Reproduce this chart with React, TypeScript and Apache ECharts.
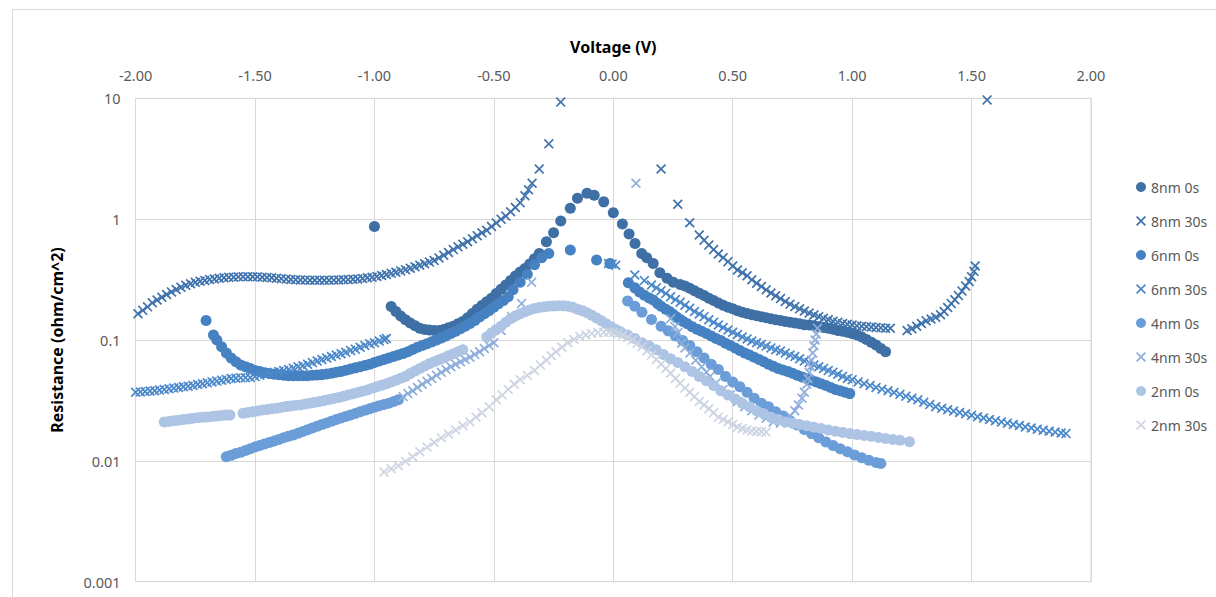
import React, { useEffect, useRef } from "react";
import * as echarts from "echarts";

type P = [number, number];

const seriesNames = ["8nm 0s", "8nm 30s", "6nm 0s", "6nm 30s", "4nm 0s", "4nm 30s", "2nm 0s", "2nm 30s"];
const seriesColors = ["#3E6FA5", "#3F72AC", "#4682C2", "#4A88CA", "#6B9DD8", "#8EAEDC", "#AEC4E5", "#CDD5E2"];
const xTicks = [-2, -1.5, -1, -0.5, 0, 0.5, 1, 1.5, 2];
const yTicks = [0.001, 0.01, 0.1, 1, 10];

const s8nm0s: P[] = [
  [-1.0, 0.87],
  [-0.93, 0.189], [-0.91, 0.172], [-0.89, 0.158], [-0.87, 0.147], [-0.85, 0.138], [-0.83, 0.131], [-0.81, 0.125],
  [-0.79, 0.122], [-0.77, 0.121], [-0.75, 0.12], [-0.73, 0.12], [-0.71, 0.122], [-0.69, 0.126], [-0.67, 0.13],
  [-0.65, 0.136], [-0.63, 0.142], [-0.61, 0.153], [-0.59, 0.166], [-0.57, 0.18], [-0.55, 0.193], [-0.53, 0.207],
  [-0.51, 0.222], [-0.49, 0.243], [-0.47, 0.263], [-0.45, 0.285], [-0.43, 0.31], [-0.41, 0.338], [-0.39, 0.365],
  [-0.37, 0.39], [-0.35, 0.425], [-0.33, 0.47], [-0.31, 0.52], [-0.28, 0.65], [-0.25, 0.773],
  [-0.22, 0.966], [-0.18, 1.23], [-0.15, 1.49], [-0.11, 1.64], [-0.08, 1.58], [-0.04, 1.39], [0.0, 1.13],
  [0.038, 0.91], [0.066, 0.754], [0.091, 0.63], [0.119, 0.52], [0.14, 0.48], [0.167, 0.43], [0.195, 0.36],
  [0.225, 0.325], [0.251, 0.3], [0.28, 0.288], [0.3, 0.28], [0.32, 0.268], [0.34, 0.256], [0.36, 0.244],
  [0.38, 0.233], [0.4, 0.222], [0.42, 0.212], [0.44, 0.202], [0.46, 0.194], [0.48, 0.187], [0.5, 0.181],
  [0.52, 0.175], [0.54, 0.17], [0.56, 0.166], [0.58, 0.162], [0.6, 0.159], [0.62, 0.156], [0.64, 0.153],
  [0.66, 0.15], [0.68, 0.147], [0.7, 0.145], [0.72, 0.142], [0.74, 0.14], [0.76, 0.138], [0.78, 0.136],
  [0.8, 0.134], [0.82, 0.133], [0.84, 0.131], [0.86, 0.129], [0.88, 0.127], [0.9, 0.125], [0.92, 0.123],
  [0.94, 0.12], [0.96, 0.118], [0.98, 0.116], [1.0, 0.113], [1.02, 0.11], [1.04, 0.106], [1.06, 0.101],
  [1.08, 0.096], [1.1, 0.091], [1.12, 0.085], [1.14, 0.08],
];

const s8nm30s: P[] = [
  [-1.99, 0.165], [-1.97, 0.176], [-1.95, 0.188], [-1.93, 0.203], [-1.91, 0.214], [-1.89, 0.226], [-1.87, 0.238],
  [-1.85, 0.25], [-1.83, 0.262], [-1.81, 0.273], [-1.79, 0.284], [-1.77, 0.292], [-1.75, 0.3], [-1.73, 0.306],
  [-1.71, 0.311], [-1.69, 0.316], [-1.67, 0.32], [-1.65, 0.324], [-1.63, 0.327], [-1.61, 0.33], [-1.59, 0.331],
  [-1.57, 0.333], [-1.55, 0.334], [-1.53, 0.334], [-1.51, 0.334], [-1.49, 0.333], [-1.47, 0.331], [-1.45, 0.329],
  [-1.43, 0.327], [-1.41, 0.324], [-1.39, 0.322], [-1.37, 0.319], [-1.35, 0.317], [-1.33, 0.315], [-1.31, 0.314],
  [-1.29, 0.313], [-1.27, 0.312], [-1.25, 0.312], [-1.23, 0.312], [-1.21, 0.312], [-1.19, 0.312], [-1.17, 0.313],
  [-1.15, 0.314], [-1.13, 0.315], [-1.11, 0.316], [-1.09, 0.318], [-1.07, 0.32], [-1.05, 0.323], [-1.03, 0.327],
  [-1.01, 0.331], [-0.99, 0.336], [-0.97, 0.342], [-0.95, 0.348], [-0.93, 0.356], [-0.91, 0.364], [-0.89, 0.373],
  [-0.87, 0.382], [-0.85, 0.392], [-0.83, 0.404], [-0.81, 0.416], [-0.79, 0.428], [-0.77, 0.441], [-0.75, 0.455],
  [-0.73, 0.478], [-0.71, 0.503], [-0.69, 0.53], [-0.67, 0.56], [-0.65, 0.59], [-0.63, 0.62], [-0.61, 0.65],
  [-0.59, 0.69], [-0.57, 0.73], [-0.55, 0.77], [-0.53, 0.81], [-0.51, 0.87], [-0.49, 0.93], [-0.47, 1.0],
  [-0.45, 1.06], [-0.43, 1.15], [-0.41, 1.25], [-0.39, 1.37], [-0.37, 1.56], [-0.355, 1.75], [-0.34, 1.98],
  [-0.31, 2.6], [-0.27, 4.2], [-0.22, 9.3],
  [0.2, 2.6], [0.27, 1.33], [0.32, 0.935], [0.36, 0.74], [0.38, 0.67], [0.4, 0.61], [0.42, 0.56], [0.44, 0.515],
  [0.46, 0.48], [0.48, 0.445], [0.5, 0.41], [0.52, 0.38], [0.54, 0.36], [0.56, 0.34], [0.58, 0.315], [0.6, 0.295],
  [0.62, 0.277], [0.64, 0.26], [0.66, 0.245], [0.68, 0.232], [0.7, 0.22], [0.72, 0.208], [0.74, 0.198],
  [0.76, 0.189], [0.78, 0.181], [0.8, 0.174], [0.82, 0.167], [0.84, 0.161], [0.86, 0.156], [0.88, 0.151],
  [0.9, 0.147], [0.92, 0.143], [0.94, 0.14], [0.96, 0.137], [0.98, 0.135], [1.0, 0.133], [1.02, 0.131],
  [1.04, 0.13], [1.06, 0.129], [1.08, 0.128], [1.1, 0.127], [1.12, 0.126], [1.14, 0.125], [1.16, 0.125],
  [1.23, 0.12], [1.25, 0.124], [1.27, 0.13], [1.29, 0.137], [1.31, 0.144], [1.33, 0.149], [1.35, 0.154],
  [1.37, 0.162], [1.385, 0.172], [1.4, 0.186], [1.415, 0.2], [1.43, 0.215], [1.445, 0.233], [1.46, 0.254],
  [1.475, 0.28], [1.49, 0.305], [1.5, 0.334], [1.51, 0.37], [1.515, 0.41],
  [1.565, 9.7],
];

const s6nm0s: P[] = [
  [-1.705, 0.145], [-1.674, 0.11], [-1.66, 0.1], [-1.64, 0.088], [-1.62, 0.078], [-1.6, 0.071], [-1.58, 0.066],
  [-1.56, 0.062], [-1.54, 0.06], [-1.52, 0.058], [-1.5, 0.056], [-1.48, 0.0548], [-1.46, 0.0537], [-1.44, 0.0528],
  [-1.42, 0.052], [-1.4, 0.0515], [-1.38, 0.051], [-1.36, 0.0507], [-1.34, 0.0505], [-1.32, 0.0505], [-1.3, 0.0505],
  [-1.28, 0.0507], [-1.26, 0.051], [-1.24, 0.0513], [-1.22, 0.0517], [-1.2, 0.0523], [-1.18, 0.053], [-1.16, 0.054],
  [-1.14, 0.055], [-1.12, 0.0562], [-1.1, 0.0575], [-1.08, 0.0588], [-1.06, 0.06], [-1.04, 0.0615], [-1.02, 0.063],
  [-1.0, 0.065], [-0.98, 0.067], [-0.96, 0.069], [-0.94, 0.071], [-0.92, 0.073], [-0.9, 0.075], [-0.88, 0.0775],
  [-0.86, 0.08], [-0.84, 0.0835], [-0.82, 0.087], [-0.8, 0.09], [-0.78, 0.093], [-0.76, 0.0965], [-0.74, 0.1],
  [-0.72, 0.104], [-0.7, 0.108], [-0.68, 0.113], [-0.66, 0.118], [-0.64, 0.124], [-0.62, 0.13], [-0.6, 0.137],
  [-0.58, 0.145], [-0.56, 0.155], [-0.54, 0.165], [-0.52, 0.175], [-0.5, 0.187], [-0.48, 0.2], [-0.46, 0.212],
  [-0.44, 0.228], [-0.42, 0.26], [-0.39, 0.3], [-0.36, 0.35], [-0.33, 0.42], [-0.3, 0.48], [-0.27, 0.52],
  [-0.18, 0.556], [-0.07, 0.46], [-0.014, 0.43],
  [0.063, 0.298], [0.09, 0.27], [0.11, 0.25], [0.13, 0.235], [0.15, 0.223], [0.167, 0.214], [0.185, 0.2],
  [0.2, 0.19], [0.22, 0.18], [0.237, 0.171], [0.25, 0.163], [0.265, 0.155], [0.28, 0.148], [0.293, 0.142],
  [0.31, 0.136], [0.33, 0.129], [0.35, 0.123], [0.37, 0.118], [0.39, 0.113], [0.41, 0.108], [0.43, 0.103],
  [0.45, 0.099], [0.47, 0.094], [0.49, 0.09], [0.51, 0.086], [0.53, 0.082], [0.55, 0.078], [0.57, 0.075],
  [0.59, 0.072], [0.61, 0.069], [0.63, 0.066], [0.65, 0.063], [0.67, 0.0605], [0.69, 0.058], [0.71, 0.0565],
  [0.73, 0.055], [0.75, 0.053], [0.77, 0.051], [0.79, 0.0495], [0.81, 0.048], [0.83, 0.0465], [0.85, 0.045],
  [0.87, 0.0435], [0.89, 0.042], [0.91, 0.0405], [0.93, 0.039], [0.95, 0.038], [0.97, 0.037], [0.99, 0.036],
];

const s6nm30s: P[] = [
  [-2.0, 0.037], [-1.98, 0.0372], [-1.96, 0.0375], [-1.94, 0.0378], [-1.92, 0.038], [-1.9, 0.0385], [-1.88, 0.039],
  [-1.86, 0.0395], [-1.84, 0.04], [-1.82, 0.0405], [-1.8, 0.041], [-1.78, 0.0415], [-1.76, 0.042], [-1.74, 0.0428],
  [-1.72, 0.0435], [-1.7, 0.0442], [-1.68, 0.045], [-1.66, 0.0457], [-1.64, 0.0465], [-1.62, 0.0472], [-1.6, 0.048],
  [-1.58, 0.0483], [-1.56, 0.0486], [-1.54, 0.0488], [-1.52, 0.049], [-1.5, 0.05], [-1.48, 0.051], [-1.46, 0.052],
  [-1.44, 0.053], [-1.42, 0.054], [-1.4, 0.055], [-1.38, 0.056], [-1.36, 0.057], [-1.34, 0.0585], [-1.32, 0.06],
  [-1.3, 0.0612], [-1.28, 0.063], [-1.26, 0.065], [-1.24, 0.067], [-1.22, 0.069], [-1.2, 0.071], [-1.18, 0.073],
  [-1.16, 0.075], [-1.14, 0.077], [-1.12, 0.079], [-1.1, 0.082], [-1.08, 0.084], [-1.06, 0.087], [-1.04, 0.09],
  [-1.02, 0.093], [-1.0, 0.095], [-0.98, 0.098], [-0.96, 0.101], [-0.95, 0.103],
  [-0.02, 0.43], [-0.005, 0.425], [0.01, 0.415], [0.09, 0.345], [0.13, 0.31], [0.16, 0.285], [0.18, 0.27],
  [0.2, 0.256], [0.22, 0.243], [0.24, 0.228], [0.26, 0.216], [0.28, 0.205], [0.3, 0.194], [0.32, 0.183],
  [0.34, 0.172], [0.36, 0.164], [0.38, 0.156], [0.4, 0.147], [0.42, 0.14], [0.44, 0.133], [0.46, 0.127],
  [0.48, 0.121], [0.5, 0.116], [0.52, 0.111], [0.54, 0.106], [0.56, 0.102], [0.58, 0.098], [0.6, 0.095],
  [0.62, 0.092], [0.64, 0.089], [0.66, 0.086], [0.68, 0.083], [0.7, 0.081], [0.72, 0.078], [0.74, 0.075],
  [0.76, 0.073], [0.78, 0.07], [0.8, 0.067], [0.82, 0.065], [0.84, 0.062], [0.86, 0.06], [0.88, 0.058],
  [0.9, 0.056], [0.92, 0.054], [0.94, 0.052], [0.96, 0.05], [0.98, 0.048], [1.0, 0.047], [1.025, 0.045],
  [1.05, 0.0435], [1.075, 0.042], [1.1, 0.0405], [1.125, 0.0392], [1.15, 0.038], [1.175, 0.0368], [1.2, 0.0355],
  [1.225, 0.0343], [1.25, 0.033], [1.275, 0.032], [1.3, 0.0305], [1.325, 0.0292], [1.35, 0.028], [1.375, 0.0272],
  [1.4, 0.0265], [1.425, 0.0258], [1.45, 0.0251], [1.475, 0.0245], [1.5, 0.0238], [1.525, 0.0232], [1.55, 0.0226],
  [1.575, 0.022], [1.6, 0.0215], [1.625, 0.021], [1.65, 0.0205], [1.675, 0.02], [1.7, 0.0196], [1.725, 0.0191],
  [1.75, 0.0187], [1.775, 0.0183], [1.8, 0.0179], [1.825, 0.0176], [1.85, 0.0173], [1.875, 0.017], [1.895, 0.0168],
];

const s4nm0s: P[] = [
  [-1.62, 0.0108], [-1.6, 0.0111], [-1.58, 0.0115], [-1.56, 0.0118], [-1.54, 0.0122], [-1.52, 0.0126],
  [-1.5, 0.013], [-1.48, 0.0134], [-1.46, 0.0138], [-1.44, 0.0142], [-1.42, 0.0146], [-1.4, 0.015],
  [-1.38, 0.0155], [-1.36, 0.016], [-1.34, 0.0164], [-1.32, 0.0169], [-1.3, 0.0175], [-1.28, 0.0181],
  [-1.26, 0.0187], [-1.24, 0.0193], [-1.22, 0.02], [-1.2, 0.0206], [-1.18, 0.0213], [-1.16, 0.022],
  [-1.14, 0.0226], [-1.12, 0.0233], [-1.1, 0.024], [-1.08, 0.0247], [-1.06, 0.0255], [-1.04, 0.0262],
  [-1.02, 0.027], [-1.0, 0.0278], [-0.98, 0.0286], [-0.96, 0.0293], [-0.94, 0.03], [-0.92, 0.031], [-0.9, 0.032],
  [0.06, 0.21], [0.09, 0.19], [0.12, 0.17], [0.16, 0.148], [0.2, 0.13], [0.23, 0.119], [0.26, 0.108],
  [0.29, 0.099], [0.32, 0.09], [0.35, 0.08], [0.38, 0.071], [0.41, 0.063], [0.44, 0.057], [0.47, 0.05],
  [0.5, 0.045], [0.53, 0.041], [0.56, 0.037], [0.59, 0.033], [0.62, 0.03], [0.65, 0.028], [0.68, 0.0255],
  [0.71, 0.0235], [0.74, 0.0215], [0.77, 0.0198], [0.8, 0.0182], [0.83, 0.0168], [0.86, 0.0155],
  [0.89, 0.0143], [0.92, 0.0134], [0.95, 0.0126], [0.98, 0.0119], [1.01, 0.0112], [1.04, 0.0106],
  [1.07, 0.0101], [1.1, 0.0097], [1.12, 0.0095],
];

const s4nm30s: P[] = [
  [-0.88, 0.034], [-0.86, 0.036], [-0.84, 0.038], [-0.82, 0.0405], [-0.8, 0.043], [-0.78, 0.0455], [-0.76, 0.048],
  [-0.74, 0.051], [-0.72, 0.054], [-0.7, 0.057], [-0.68, 0.06], [-0.66, 0.063], [-0.64, 0.066], [-0.62, 0.069],
  [-0.6, 0.072], [-0.58, 0.076], [-0.56, 0.08], [-0.54, 0.085], [-0.52, 0.09], [-0.5, 0.095], [-0.47, 0.12],
  [-0.425, 0.156], [-0.384, 0.2], [-0.342, 0.3], [0.095, 1.98],
  [0.24, 0.15], [0.258, 0.129], [0.27, 0.115], [0.286, 0.094], [0.3, 0.086], [0.321, 0.078], [0.345, 0.068],
  [0.37, 0.06], [0.39, 0.054], [0.405, 0.05], [0.43, 0.044], [0.46, 0.039], [0.49, 0.035], [0.52, 0.031],
  [0.55, 0.028], [0.58, 0.026], [0.61, 0.024], [0.64, 0.0225], [0.67, 0.021], [0.7, 0.0205], [0.72, 0.022],
  [0.74, 0.0235], [0.76, 0.026], [0.775, 0.029], [0.79, 0.033], [0.8, 0.037], [0.81, 0.043], [0.815, 0.048],
  [0.82, 0.054], [0.826, 0.06], [0.83, 0.068], [0.835, 0.078], [0.84, 0.09], [0.845, 0.1], [0.85, 0.112],
  [0.855, 0.125],
];

const s2nm0s: P[] = [
  [-1.88, 0.021], [-1.86, 0.0212], [-1.84, 0.0215], [-1.82, 0.0217], [-1.8, 0.022], [-1.78, 0.0222],
  [-1.76, 0.0225], [-1.74, 0.0227], [-1.72, 0.023], [-1.7, 0.0231], [-1.68, 0.0233], [-1.66, 0.0235],
  [-1.64, 0.0237], [-1.62, 0.0239], [-1.605, 0.024],
  [-1.55, 0.0248], [-1.53, 0.0251], [-1.51, 0.0255], [-1.49, 0.0259], [-1.47, 0.0263], [-1.45, 0.0266],
  [-1.43, 0.027], [-1.41, 0.0273], [-1.39, 0.0277], [-1.37, 0.0281], [-1.35, 0.0285], [-1.33, 0.0288],
  [-1.31, 0.029], [-1.29, 0.0295], [-1.27, 0.03], [-1.25, 0.0305], [-1.23, 0.031], [-1.21, 0.0316],
  [-1.19, 0.0322], [-1.17, 0.0328], [-1.15, 0.0335], [-1.13, 0.0342], [-1.11, 0.035], [-1.09, 0.0359],
  [-1.07, 0.0368], [-1.05, 0.0377], [-1.03, 0.0386], [-1.01, 0.0398], [-0.99, 0.041], [-0.97, 0.0422],
  [-0.95, 0.0435], [-0.93, 0.045], [-0.91, 0.0465], [-0.89, 0.0482], [-0.87, 0.05], [-0.85, 0.0527],
  [-0.83, 0.0555], [-0.81, 0.0582], [-0.79, 0.061], [-0.77, 0.0635], [-0.75, 0.066], [-0.73, 0.0685],
  [-0.71, 0.071], [-0.69, 0.074], [-0.67, 0.077], [-0.65, 0.08], [-0.63, 0.083],
  [-0.53, 0.106], [-0.51, 0.114], [-0.49, 0.122], [-0.47, 0.13], [-0.45, 0.14], [-0.43, 0.15], [-0.41, 0.158],
  [-0.39, 0.165], [-0.37, 0.171], [-0.35, 0.177], [-0.33, 0.182], [-0.31, 0.186], [-0.29, 0.188], [-0.27, 0.19],
  [-0.25, 0.191], [-0.23, 0.192], [-0.21, 0.192], [-0.19, 0.19], [-0.17, 0.187], [-0.15, 0.18], [-0.13, 0.175],
  [-0.11, 0.168], [-0.09, 0.16], [-0.07, 0.152], [-0.05, 0.144], [-0.03, 0.136], [-0.01, 0.129], [0.01, 0.122],
  [0.03, 0.117], [0.06, 0.11], [0.09, 0.103], [0.12, 0.095], [0.15, 0.089], [0.18, 0.083], [0.21, 0.076],
  [0.24, 0.07], [0.27, 0.065], [0.3, 0.06], [0.33, 0.055], [0.36, 0.05], [0.39, 0.046], [0.42, 0.042],
  [0.45, 0.038], [0.48, 0.035], [0.51, 0.0325], [0.54, 0.03], [0.57, 0.028], [0.6, 0.026], [0.63, 0.0245],
  [0.66, 0.023], [0.69, 0.022], [0.72, 0.021], [0.75, 0.0205], [0.78, 0.02], [0.81, 0.0195], [0.84, 0.019],
  [0.87, 0.0185], [0.9, 0.018], [0.93, 0.0176], [0.96, 0.0172], [0.99, 0.0168], [1.02, 0.0165], [1.05, 0.0162],
  [1.08, 0.016], [1.11, 0.0156], [1.14, 0.0153], [1.17, 0.015], [1.2, 0.0148], [1.24, 0.0144],
];

const s2nm30s: P[] = [
  [-0.96, 0.0081], [-0.93, 0.0086], [-0.9, 0.0091], [-0.87, 0.0099], [-0.84, 0.0108], [-0.81, 0.0119],
  [-0.78, 0.013], [-0.75, 0.0142], [-0.72, 0.0155], [-0.69, 0.0167], [-0.66, 0.018], [-0.63, 0.0195],
  [-0.6, 0.021], [-0.575, 0.023], [-0.55, 0.025], [-0.52, 0.028], [-0.49, 0.032], [-0.465, 0.035],
  [-0.44, 0.039], [-0.415, 0.043], [-0.39, 0.047], [-0.36, 0.051], [-0.33, 0.056], [-0.305, 0.062],
  [-0.28, 0.068], [-0.26, 0.074], [-0.24, 0.08], [-0.215, 0.087], [-0.19, 0.095], [-0.165, 0.101],
  [-0.14, 0.107], [-0.115, 0.11], [-0.09, 0.113], [-0.065, 0.115], [-0.04, 0.116], [-0.02, 0.116], [0.0, 0.115],
  [0.02, 0.113], [0.04, 0.11], [0.06, 0.105], [0.08, 0.1], [0.1, 0.094], [0.12, 0.088], [0.14, 0.081],
  [0.16, 0.075], [0.18, 0.069], [0.2, 0.063], [0.22, 0.058], [0.24, 0.053], [0.26, 0.048], [0.28, 0.044],
  [0.3, 0.04], [0.32, 0.037], [0.34, 0.034], [0.36, 0.031], [0.38, 0.029], [0.4, 0.027], [0.42, 0.025],
  [0.44, 0.023], [0.46, 0.022], [0.48, 0.021], [0.5, 0.02], [0.52, 0.019], [0.54, 0.0185], [0.56, 0.018],
  [0.58, 0.0177], [0.6, 0.0175], [0.62, 0.0174], [0.64, 0.0173],
];

const seriesData: P[][] = [s8nm0s, s8nm30s, s6nm0s, s6nm30s, s4nm0s, s4nm30s, s2nm0s, s2nm30s];

const CROSS = "path://M1.2,0L5,3.8L8.8,0L10,1.2L6.2,5L10,8.8L8.8,10L5,6.2L1.2,10L0,8.8L3.8,5L0,1.2Z";

export default function App() {
  const ref = useRef<HTMLDivElement>(null);
  useEffect(() => {
    if (!ref.current) return;
    const chart = echarts.init(ref.current, undefined, { renderer: "svg" });
    const labelColor = "#595959";
    const gridColor = "#d9d9d9";
    const font = "'Noto Sans', sans-serif";
    chart.setOption({
      animation: false,
      backgroundColor: "#ffffff",
      grid: { left: 135.6, right: 125, top: 98.3, bottom: 15.3, show: true, borderColor: gridColor, borderWidth: 1 },
      graphic: [
        {
          type: "rect",
          shape: { x: 12.5, y: 9.5, width: 1220, height: 600 },
          style: { fill: "none", stroke: gridColor, lineWidth: 1 },
          silent: true,
        },
      ],
      legend: {
        orient: "vertical",
        left: 1131,
        top: 175,
        itemWidth: 10,
        itemHeight: 10,
        itemGap: 20,
        textStyle: { color: labelColor, fontSize: 14, fontFamily: font, lineHeight: 14 },
        data: seriesNames.map((n, i) => ({ name: n, icon: i % 2 === 0 ? "circle" : CROSS })),
      },
      xAxis: {
        type: "value",
        position: "top",
        min: xTicks[0],
        max: xTicks[xTicks.length - 1],
        interval: 0.5,
        name: "Voltage (V)",
        nameLocation: "middle",
        nameGap: 43,
        nameTextStyle: { color: "#000", fontWeight: "bold", fontSize: 16, fontFamily: font },
        axisLine: { show: true, lineStyle: { color: gridColor } },
        axisTick: { show: false },
        axisLabel: { color: labelColor, fontSize: 14.5, fontFamily: font, margin: 16, formatter: (v: number) => v.toFixed(2) },
        splitLine: { show: true, lineStyle: { color: gridColor, width: 1 } },
      },
      yAxis: {
        type: "log",
        logBase: 10,
        min: yTicks[0],
        max: yTicks[yTicks.length - 1],
        name: "Resistance (ohm/cm^2)",
        nameLocation: "middle",
        nameGap: 71,
        nameTextStyle: { color: "#000", fontWeight: "bold", fontSize: 16, fontFamily: font },
        axisLine: { show: true, lineStyle: { color: gridColor } },
        axisTick: { show: false },
        axisLabel: {
          color: labelColor,
          fontSize: 14.5,
          fontFamily: font,
          margin: 15,
          formatter: (v: number) => String(Number(v.toPrecision(1))),
        },
        splitLine: { show: true, lineStyle: { color: gridColor, width: 1 } },
      },
      series: seriesNames.map((name, i) => ({
        name,
        type: "scatter",
        data: seriesData[i],
        symbol: i % 2 === 0 ? "circle" : CROSS,
        symbolSize: i % 2 === 0 ? 11 : 10,
        itemStyle: { color: seriesColors[i], opacity: 1 },
        emphasis: { disabled: true },
      })),
    });
    return () => chart.dispose();
  }, []);
  return <div ref={ref} style={{ position: "fixed", left: 0, top: 0, width: 1216, height: 597 }} />;
}
